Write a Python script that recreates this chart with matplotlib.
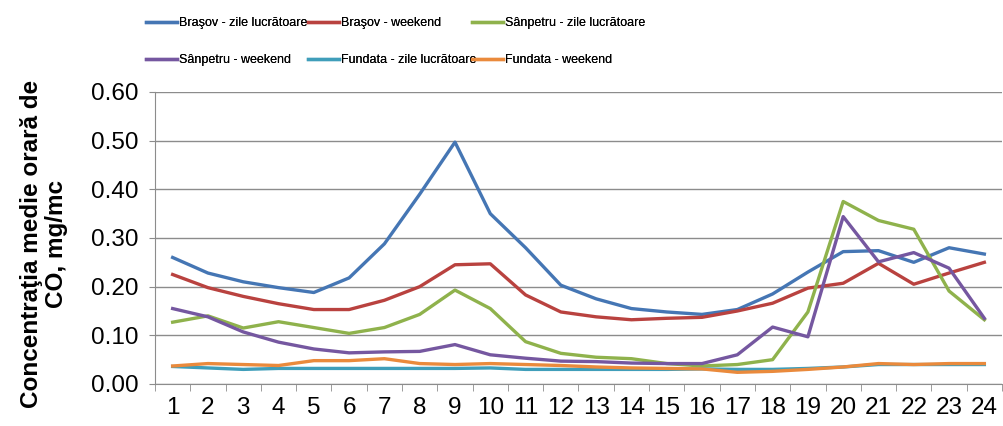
import matplotlib
matplotlib.use("Agg")
import matplotlib.pyplot as plt
from matplotlib.ticker import FixedLocator, FormatStrFormatter

hours = list(range(1, 25))

brasov_work = [0.260, 0.228, 0.210, 0.198, 0.188, 0.218, 0.288, 0.390, 0.497, 0.350, 0.280, 0.203,
               0.175, 0.155, 0.148, 0.143, 0.153, 0.185, 0.230, 0.272, 0.274, 0.250, 0.280, 0.267]
brasov_weekend = [0.225, 0.198, 0.180, 0.165, 0.153, 0.153, 0.172, 0.200, 0.245, 0.247, 0.183, 0.148,
                  0.138, 0.132, 0.135, 0.137, 0.150, 0.166, 0.197, 0.207, 0.248, 0.205, 0.228, 0.250]
sanpetru_work = [0.127, 0.140, 0.115, 0.128, 0.116, 0.104, 0.116, 0.143, 0.193, 0.155, 0.087, 0.063,
                 0.055, 0.052, 0.042, 0.037, 0.040, 0.050, 0.148, 0.375, 0.336, 0.318, 0.191, 0.132]
sanpetru_weekend = [0.155, 0.138, 0.107, 0.086, 0.072, 0.064, 0.066, 0.067, 0.081, 0.060, 0.053, 0.047,
                    0.046, 0.043, 0.042, 0.042, 0.060, 0.117, 0.097, 0.344, 0.251, 0.270, 0.238, 0.135]
fundata_work = [0.036, 0.033, 0.030, 0.032, 0.032, 0.032, 0.032, 0.032, 0.032, 0.033, 0.030, 0.030,
                0.030, 0.030, 0.030, 0.031, 0.030, 0.030, 0.032, 0.035, 0.040, 0.040, 0.040, 0.040]
fundata_weekend = [0.037, 0.042, 0.040, 0.038, 0.048, 0.048, 0.052, 0.042, 0.040, 0.042, 0.040, 0.038,
                   0.035, 0.033, 0.032, 0.031, 0.024, 0.026, 0.030, 0.035, 0.042, 0.040, 0.042, 0.042]

series = [
    ("Braşov - zile lucrătoare", brasov_work, "#4576B4"),
    ("Braşov - weekend", brasov_weekend, "#B9423F"),
    ("Sânpetru - zile lucrătoare", sanpetru_work, "#8FB24C"),
    ("Sânpetru - weekend", sanpetru_weekend, "#7557A0"),
    ("Fundata - zile lucrătoare", fundata_work, "#3F9EBA"),
    ("Fundata - weekend", fundata_weekend, "#EA8A3C"),
]

plt.rcParams["font.family"] = ["Liberation Sans", "DejaVu Sans"]

fig = plt.figure(figsize=(10.04, 4.26), dpi=100)
ax = fig.add_axes([155 / 1004, 1 - 384 / 426, (1002 - 155) / 1004, (384 - 92) / 426])

lines = []
for label, values, color in series:
    (line,) = ax.plot(hours, values, color=color, linewidth=2.4, label=label, solid_joinstyle="round")
    lines.append(line)

grid_color = "#8C8C8C"
ax.set_xlim(0.5, 24.5)
ax.set_ylim(0, 0.60)
ax.set_yticks([0.0, 0.1, 0.2, 0.3, 0.4, 0.5, 0.6])
ax.yaxis.set_major_formatter(FormatStrFormatter("%.2f"))
ax.yaxis.grid(True, color=grid_color, linewidth=1.0)
ax.set_axisbelow(True)

ax.set_xticks(hours)
ax.xaxis.set_minor_locator(FixedLocator([h + 0.5 for h in range(0, 25)]))
ax.tick_params(axis="x", which="major", length=0, pad=9, labelsize=17.5)
ax.tick_params(axis="x", which="minor", length=5, color=grid_color, direction="out")
ax.tick_params(axis="y", length=4, color=grid_color, labelsize=17.5, pad=8)

for side in ("top", "right"):
    ax.spines[side].set_visible(False)
for side in ("left", "bottom"):
    ax.spines[side].set_color(grid_color)

fig.text(44 / 1004, 1 - 244 / 426, "Concentraţia medie orară de\nCO, mg/mc", rotation=90,
         ha="center", va="center", multialignment="center", fontsize=17.5, fontweight="bold",
         linespacing=1.15)

# one legend per column (Excel-style fixed grid), each holding two rows
column_x = [146, 308, 472]
for col, x in enumerate(column_x):
    idx = [col, col + 3]
    leg = fig.legend([lines[i] for i in idx], [series[i][0] for i in idx],
                     loc="upper left", bbox_to_anchor=(x / 1004, 1 - 17 / 426), frameon=False,
                     fontsize=9, handlelength=2.5, handletextpad=0.15,
                     labelspacing=2.0, borderaxespad=0, borderpad=0)
    fig.add_artist(leg)

fig.savefig("out.png", dpi=100)
